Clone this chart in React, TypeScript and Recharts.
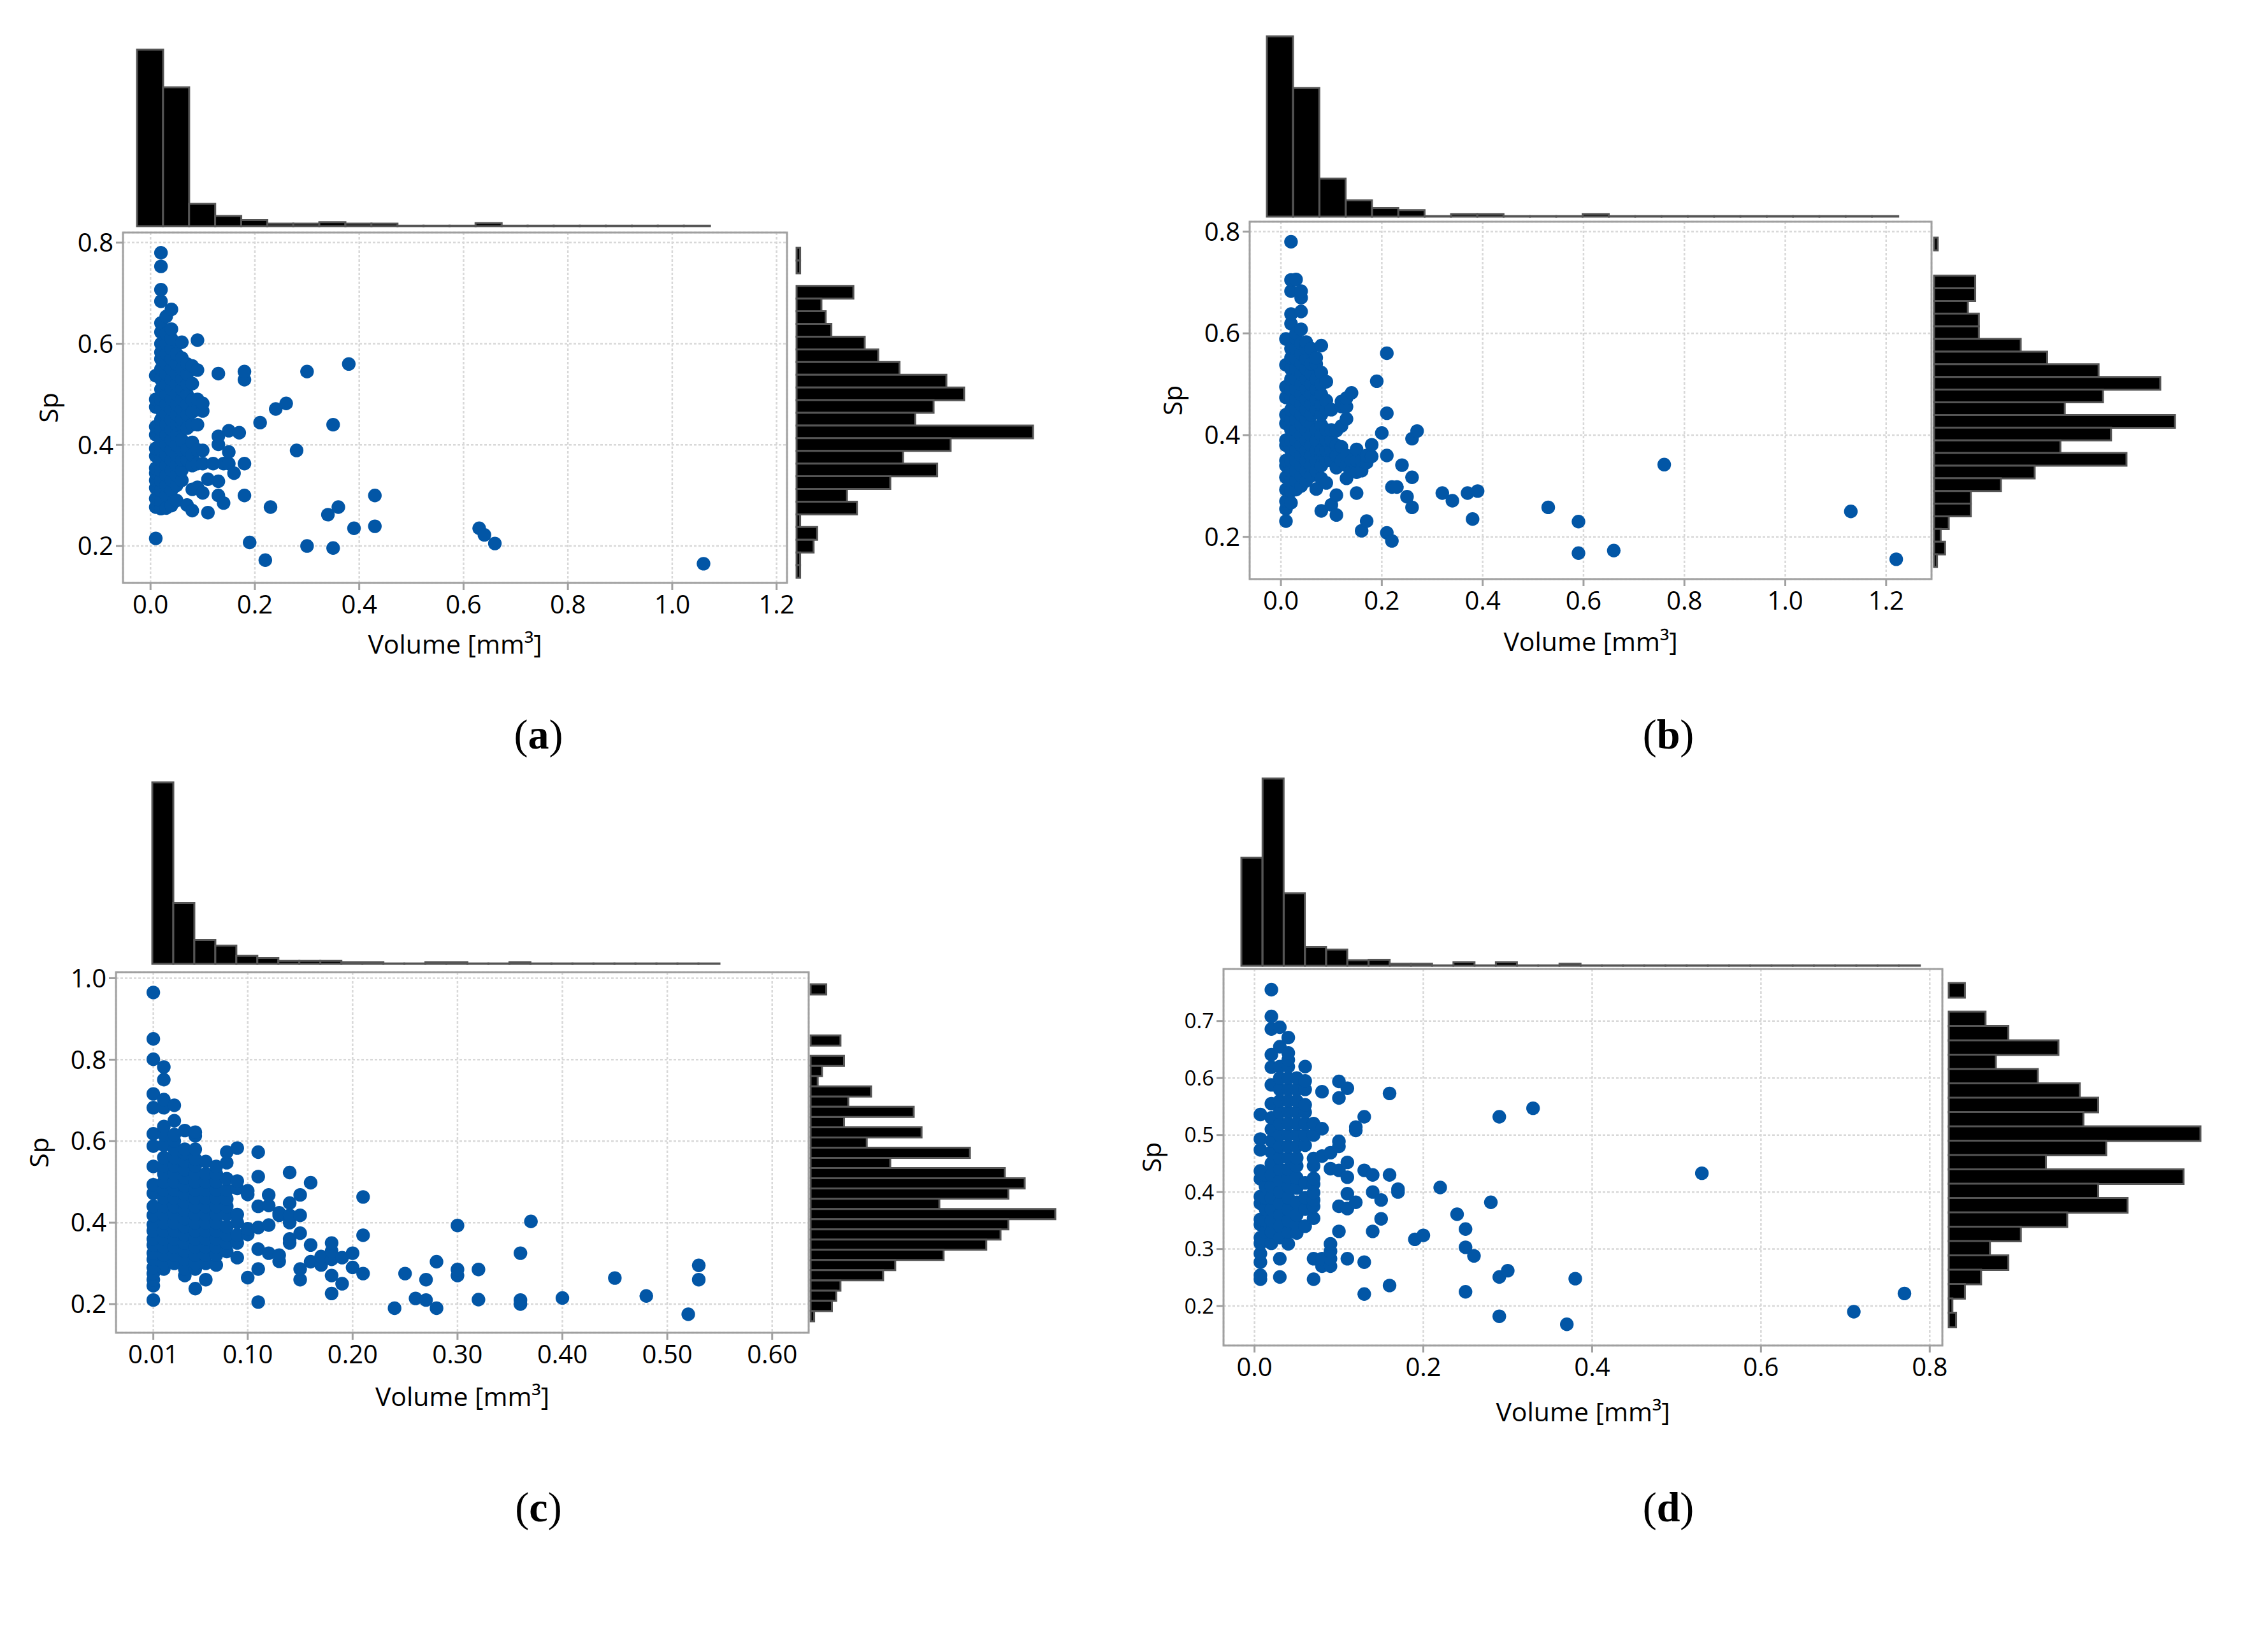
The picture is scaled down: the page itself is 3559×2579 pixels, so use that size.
import React from 'react';
import { BarChart, Bar, ScatterChart, Scatter, XAxis, YAxis, CartesianGrid, ReferenceArea } from 'recharts';

// Scatter data: the volumes are discretised, so each row is [volume, list of Sp values]
type Column = [number, number[]];

const columnsA: Column[] = [
    [0.01, [0.215, 0.277, 0.294, 0.315, 0.33, 0.344, 0.354, 0.378, 0.393, 0.42, 0.436, 0.475, 0.49, 0.537]],
    [0.02, [0.274, 0.29, 0.31, 0.33, 0.35, 0.37, 0.39, 0.41, 0.43, 0.45, 0.47, 0.49, 0.51, 0.53, 0.55, 0.57, 0.583, 0.6, 0.623, 0.641, 0.684, 0.707, 0.753, 0.78]],
    [0.03, [0.275, 0.3, 0.32, 0.34, 0.36, 0.38, 0.4, 0.42, 0.44, 0.46, 0.48, 0.5, 0.52, 0.54, 0.56, 0.58, 0.6, 0.62, 0.654]],
    [0.04, [0.28, 0.31, 0.33, 0.35, 0.37, 0.39, 0.41, 0.43, 0.45, 0.47, 0.49, 0.51, 0.53, 0.55, 0.57, 0.59, 0.61, 0.629, 0.668]],
    [0.05, [0.29, 0.32, 0.34, 0.36, 0.38, 0.4, 0.42, 0.44, 0.46, 0.48, 0.5, 0.52, 0.54, 0.56, 0.58]],
    [0.06, [0.33, 0.35, 0.37, 0.39, 0.41, 0.44, 0.45, 0.47, 0.49, 0.51, 0.53, 0.55, 0.572, 0.603]],
    [0.07, [0.281, 0.37, 0.39, 0.433, 0.46, 0.48, 0.5, 0.52, 0.54, 0.56]],
    [0.08, [0.27, 0.312, 0.359, 0.38, 0.405, 0.44, 0.465, 0.489, 0.521, 0.556]],
    [0.09, [0.316, 0.363, 0.39, 0.44, 0.47, 0.49, 0.548, 0.607]],
    [0.1, [0.305, 0.363, 0.389, 0.467, 0.482]],
    [0.11, [0.266, 0.332]],
    [0.12, [0.363]],
    [0.13, [0.3, 0.328, 0.401, 0.417, 0.541]],
    [0.14, [0.285, 0.363]],
    [0.15, [0.363, 0.386, 0.428]],
    [0.16, [0.344]],
    [0.17, [0.424]],
    [0.18, [0.3, 0.363, 0.529, 0.545]],
    [0.19, [0.207]],
    [0.21, [0.444]],
    [0.22, [0.172]],
    [0.23, [0.277]],
    [0.24, [0.471]],
    [0.26, [0.482]],
    [0.28, [0.389]],
    [0.3, [0.2, 0.545]],
    [0.34, [0.262]],
    [0.35, [0.196, 0.44]],
    [0.36, [0.277]],
    [0.38, [0.56]],
    [0.39, [0.235]],
    [0.43, [0.239, 0.3]],
    [0.63, [0.235]],
    [0.64, [0.222]],
    [0.66, [0.205]],
    [1.06, [0.165]],
];

const columnsB: Column[] = [
    [0.01, [0.231, 0.255, 0.27, 0.293, 0.317, 0.34, 0.35, 0.38, 0.39, 0.423, 0.44, 0.474, 0.495, 0.538, 0.589]],
    [0.02, [0.267, 0.29, 0.31, 0.33, 0.35, 0.37, 0.39, 0.41, 0.43, 0.45, 0.47, 0.49, 0.51, 0.53, 0.552, 0.57, 0.619, 0.638, 0.683, 0.705, 0.78]],
    [0.03, [0.293, 0.31, 0.33, 0.35, 0.37, 0.39, 0.41, 0.43, 0.45, 0.47, 0.49, 0.51, 0.53, 0.55, 0.57, 0.59, 0.6, 0.706]],
    [0.04, [0.3, 0.32, 0.34, 0.36, 0.38, 0.4, 0.42, 0.44, 0.46, 0.48, 0.5, 0.52, 0.54, 0.56, 0.58, 0.608, 0.643, 0.67, 0.683]],
    [0.05, [0.31, 0.33, 0.35, 0.37, 0.39, 0.41, 0.43, 0.45, 0.47, 0.49, 0.51, 0.53, 0.55, 0.57, 0.583]],
    [0.06, [0.32, 0.34, 0.36, 0.38, 0.4, 0.42, 0.44, 0.46, 0.48, 0.5, 0.52, 0.54, 0.57]],
    [0.07, [0.294, 0.33, 0.35, 0.37, 0.39, 0.41, 0.45, 0.47, 0.49, 0.51, 0.54, 0.552]],
    [0.08, [0.251, 0.315, 0.34, 0.36, 0.37, 0.4, 0.42, 0.44, 0.46, 0.48, 0.5, 0.523, 0.576]],
    [0.09, [0.306, 0.35, 0.37, 0.39, 0.41, 0.45, 0.468, 0.505]],
    [0.1, [0.263, 0.35, 0.37, 0.39, 0.41, 0.45]],
    [0.11, [0.243, 0.282, 0.336, 0.36, 0.38, 0.409]],
    [0.12, [0.35, 0.377, 0.418, 0.456, 0.466]],
    [0.13, [0.315, 0.34, 0.36, 0.432, 0.456, 0.473]],
    [0.14, [0.33, 0.35, 0.483]],
    [0.15, [0.286, 0.327, 0.35, 0.372]],
    [0.16, [0.212, 0.33, 0.35]],
    [0.17, [0.231, 0.346, 0.36]],
    [0.18, [0.358, 0.381]],
    [0.19, [0.506]],
    [0.2, [0.404]],
    [0.21, [0.208, 0.36, 0.443, 0.561]],
    [0.22, [0.192, 0.298]],
    [0.23, [0.298]],
    [0.24, [0.341]],
    [0.25, [0.279]],
    [0.26, [0.258, 0.317, 0.393]],
    [0.27, [0.408]],
    [0.32, [0.286]],
    [0.34, [0.271]],
    [0.37, [0.286]],
    [0.38, [0.235]],
    [0.39, [0.29]],
    [0.53, [0.258]],
    [0.59, [0.168, 0.23]],
    [0.66, [0.173]],
    [0.76, [0.342]],
    [1.13, [0.25]],
    [1.22, [0.156]],
];

const columnsC: Column[] = [
    [0.01, [0.21, 0.245, 0.26, 0.275, 0.29, 0.31, 0.325, 0.345, 0.36, 0.38, 0.395, 0.418, 0.44, 0.472, 0.493, 0.538, 0.588, 0.618, 0.682, 0.716, 0.801, 0.851, 0.965]],
    [0.02, [0.286, 0.3, 0.32, 0.34, 0.36, 0.38, 0.4, 0.42, 0.44, 0.46, 0.48, 0.5, 0.52, 0.54, 0.56, 0.59, 0.616, 0.636, 0.682, 0.702, 0.751, 0.782]],
    [0.03, [0.3, 0.32, 0.34, 0.36, 0.38, 0.4, 0.42, 0.44, 0.46, 0.48, 0.5, 0.52, 0.54, 0.56, 0.58, 0.6, 0.616, 0.65, 0.688]],
    [0.04, [0.27, 0.286, 0.31, 0.33, 0.35, 0.37, 0.39, 0.41, 0.43, 0.45, 0.47, 0.49, 0.51, 0.53, 0.55, 0.57, 0.58, 0.626]],
    [0.05, [0.238, 0.286, 0.3, 0.32, 0.34, 0.36, 0.38, 0.4, 0.42, 0.44, 0.46, 0.48, 0.5, 0.52, 0.54, 0.556, 0.58, 0.613, 0.622]],
    [0.06, [0.26, 0.3, 0.32, 0.34, 0.36, 0.38, 0.4, 0.42, 0.44, 0.46, 0.48, 0.5, 0.52, 0.55]],
    [0.07, [0.296, 0.32, 0.34, 0.36, 0.38, 0.4, 0.42, 0.44, 0.46, 0.48, 0.5, 0.52, 0.538]],
    [0.08, [0.329, 0.35, 0.37, 0.39, 0.42, 0.44, 0.458, 0.48, 0.508, 0.547, 0.573]],
    [0.09, [0.314, 0.35, 0.37, 0.4, 0.42, 0.484, 0.502, 0.583]],
    [0.1, [0.265, 0.371, 0.385, 0.469, 0.478]],
    [0.11, [0.205, 0.286, 0.335, 0.388, 0.44, 0.513, 0.573]],
    [0.12, [0.325, 0.394, 0.442, 0.468]],
    [0.13, [0.305, 0.32, 0.418, 0.424]],
    [0.14, [0.35, 0.36, 0.4, 0.418, 0.448, 0.523]],
    [0.15, [0.26, 0.286, 0.374, 0.418, 0.468]],
    [0.16, [0.304, 0.345, 0.498]],
    [0.17, [0.296, 0.317]],
    [0.18, [0.226, 0.27, 0.31, 0.33, 0.35]],
    [0.19, [0.25, 0.314]],
    [0.2, [0.29, 0.325]],
    [0.21, [0.275, 0.369, 0.463]],
    [0.24, [0.19]],
    [0.25, [0.275]],
    [0.26, [0.214]],
    [0.27, [0.21, 0.26]],
    [0.28, [0.19, 0.304]],
    [0.3, [0.27, 0.285, 0.393]],
    [0.32, [0.211, 0.285]],
    [0.36, [0.2, 0.21, 0.325]],
    [0.37, [0.403]],
    [0.4, [0.215]],
    [0.45, [0.264]],
    [0.48, [0.22]],
    [0.52, [0.175]],
    [0.53, [0.26, 0.295]],
];

const columnsD: Column[] = [
    [0.007, [0.247, 0.254, 0.277, 0.292, 0.31, 0.32, 0.343, 0.352, 0.38, 0.392, 0.423, 0.437, 0.474, 0.493, 0.536]],
    [0.013, [0.33, 0.35, 0.37, 0.39, 0.41, 0.43]],
    [0.02, [0.31, 0.33, 0.35, 0.37, 0.39, 0.41, 0.43, 0.45, 0.47, 0.49, 0.51, 0.53, 0.555, 0.588, 0.619, 0.641, 0.686, 0.708, 0.755]],
    [0.03, [0.251, 0.283, 0.32, 0.34, 0.36, 0.38, 0.4, 0.42, 0.44, 0.46, 0.48, 0.5, 0.52, 0.54, 0.56, 0.58, 0.6, 0.62, 0.655, 0.689]],
    [0.04, [0.309, 0.33, 0.35, 0.37, 0.39, 0.41, 0.426, 0.44, 0.46, 0.48, 0.5, 0.52, 0.54, 0.56, 0.58, 0.6, 0.62, 0.632, 0.644, 0.671]],
    [0.05, [0.328, 0.343, 0.36, 0.382, 0.407, 0.425, 0.446, 0.46, 0.48, 0.5, 0.52, 0.54, 0.56, 0.58, 0.6]],
    [0.06, [0.34, 0.37, 0.39, 0.416, 0.482, 0.5, 0.52, 0.54, 0.553, 0.58, 0.595, 0.62]],
    [0.07, [0.247, 0.283, 0.354, 0.375, 0.386, 0.399, 0.414, 0.424, 0.446, 0.459, 0.5, 0.52]],
    [0.08, [0.27, 0.283, 0.463, 0.511, 0.576]],
    [0.09, [0.27, 0.283, 0.296, 0.309, 0.441, 0.469]],
    [0.1, [0.331, 0.375, 0.438, 0.48, 0.489, 0.565, 0.594]],
    [0.11, [0.283, 0.371, 0.397, 0.426, 0.452, 0.582]],
    [0.12, [0.382, 0.508, 0.514]],
    [0.13, [0.221, 0.277, 0.438, 0.532]],
    [0.14, [0.331, 0.4, 0.43]],
    [0.15, [0.353, 0.386]],
    [0.16, [0.236, 0.43, 0.573]],
    [0.17, [0.4, 0.405]],
    [0.19, [0.317]],
    [0.2, [0.324]],
    [0.22, [0.408]],
    [0.24, [0.361]],
    [0.25, [0.225, 0.303, 0.335]],
    [0.26, [0.288]],
    [0.28, [0.382]],
    [0.29, [0.182, 0.251, 0.532]],
    [0.3, [0.262]],
    [0.33, [0.547]],
    [0.37, [0.168]],
    [0.38, [0.248]],
    [0.53, [0.433]],
    [0.71, [0.19]],
    [0.77, [0.222]],
];

// Marginal histograms, relative bar lengths
const topA = [348, 274, 44, 20, 12, 5, 5, 8, 5, 5, 1, 1, 1, 6, 1, 1, 1, 1, 1, 1, 1, 1];
const rightA = [5, 5, 0, 80, 35, 41, 49, 96, 115, 145, 211, 236, 193, 167, 333, 217, 150, 198, 132, 71, 85, 5, 29, 24, 5, 5];
const topB = [355, 253, 75, 32, 17, 13, 1, 5, 5, 1, 1, 1, 5, 1, 1, 1, 1, 1, 1, 1, 1, 1, 1, 1];
const rightB = [5, 0, 0, 56, 56, 46, 61, 61, 118, 154, 224, 308, 230, 178, 328, 241, 172, 262, 137, 91, 50, 50, 20, 9, 15, 4];
const topC = [358, 120, 47, 36, 16, 12, 6, 6, 6, 3, 3, 1, 1, 3, 3, 1, 1, 3, 1, 1, 1, 1, 1, 1, 1, 1, 1];
const rightC = [22, 0, 0, 0, 0, 42, 0, 47, 16, 10, 85, 53, 145, 47, 156, 79, 224, 112, 273, 301, 278, 181, 344, 278, 267, 247, 187, 119, 102, 42, 36, 30, 5];
const topD = [213, 369, 143, 37, 32, 11, 12, 4, 4, 1, 7, 1, 7, 1, 1, 4, 1, 1, 1, 1, 1, 1, 1, 1, 1, 1, 1, 1, 1, 1, 1, 1];
const rightD = [22, 0, 50, 81, 149, 64, 121, 178, 203, 183, 342, 214, 132, 319, 203, 243, 161, 98, 56, 81, 44, 22, 5, 10];

// Axis ticks
const volumeTicksAB = [0, 0.2, 0.4, 0.6, 0.8, 1.0, 1.2];
const volumeTicksC = [0.01, 0.1, 0.2, 0.3, 0.4, 0.5, 0.6];
const volumeTicksD = [0, 0.2, 0.4, 0.6, 0.8];
const spTicksAB = [0.2, 0.4, 0.6, 0.8];
const spTicksC = [0.2, 0.4, 0.6, 0.8, 1.0];
const spTicksD = [0.2, 0.3, 0.4, 0.5, 0.6, 0.7];

const FONT = '"Open Sans", sans-serif';
const DOT_COLOR = '#0256a6';
const DOT_RADIUS = 10.7;
const BORDER_COLOR = '#a0a0a0';
const GRID_COLOR = '#d8d8d8';
const BAR_EDGE = '#555555';

const panels = [
    {
        key: 'a', columns: columnsA, xTicks: volumeTicksAB, yTicks: spTicksAB, xDigits: 1,
        xDomain: [-0.0528, 1.22], yDomain: [0.127, 0.82], spSize: 40, spOffset: 48,
        box: { left: 193, top: 365, width: 1042, height: 550 },
        top: { values: topA, left: 215, top: 78, width: 899, height: 277 },
        right: { values: rightA, left: 1250, top: 389, width: 371, height: 518 },
        caption: { x: 845, y: 1153 }, labelGap: 116,
    },
    {
        key: 'b', columns: columnsB, xTicks: volumeTicksAB, yTicks: spTicksAB, xDigits: 1,
        xDomain: [-0.062, 1.29], yDomain: [0.117, 0.8195], spSize: 40, spOffset: 44,
        box: { left: 1961, top: 348, width: 1070, height: 561 },
        top: { values: topB, left: 1988, top: 57, width: 991, height: 283 },
        right: { values: rightB, left: 3035, top: 373, width: 378, height: 517 },
        caption: { x: 2618, y: 1153 }, labelGap: 118,
    },
    {
        key: 'c', columns: columnsC, xTicks: volumeTicksC, yTicks: spTicksC, xDigits: 2,
        xDomain: [-0.0256, 0.6348], yDomain: [0.1297, 1.0148], spSize: 40, spOffset: 44,
        box: { left: 182, top: 1526, width: 1087, height: 566 },
        top: { values: topC, left: 239, top: 1228, width: 890, height: 285 },
        right: { values: rightC, left: 1272, top: 1545, width: 384, height: 529 },
        caption: { x: 845, y: 2366 }, labelGap: 120,
    },
    {
        key: 'd', columns: columnsD, xTicks: volumeTicksD, yTicks: spTicksD, xDigits: 1,
        xDomain: [-0.0367, 0.8149], yDomain: [0.1308, 0.7913], spSize: 33, spOffset: 52,
        box: { left: 1920, top: 1521, width: 1128, height: 591 },
        top: { values: topD, left: 1948, top: 1222, width: 1065, height: 294 },
        right: { values: rightD, left: 3058, top: 1543, width: 395, height: 540 },
        caption: { x: 2618, y: 2366 }, labelGap: 124,
    },
];

interface HistProps {
    values: number[];
    left: number;
    top: number;
    width: number;
    height: number;
}

const PAD = 3; // keeps the bar outlines inside the svg

const TopHist: React.FC<HistProps> = ({ values, left, top, width, height }) => {
    const data = values.map((count, bin) => ({ bin, count }));
    return (
        <div style={{ position: 'absolute', left: left - PAD, top: top - PAD }}>
            <BarChart width={width + 2 * PAD} height={height + 2 * PAD} data={data} barCategoryGap={0}
                margin={{ top: PAD, right: PAD, bottom: PAD, left: PAD }}>
                <XAxis dataKey="bin" hide />
                <YAxis type="number" domain={[0, Math.max(...values)]} hide />
                <Bar dataKey="count" fill="#000000" stroke={BAR_EDGE} strokeWidth={3} isAnimationActive={false} />
            </BarChart>
        </div>
    );
};

const RightHist: React.FC<HistProps> = ({ values, left, top, width, height }) => {
    const data = values.map((count, bin) => ({ bin, count }));
    return (
        <div style={{ position: 'absolute', left: left - PAD, top: top - PAD }}>
            <BarChart layout="vertical" width={width + 2 * PAD} height={height + 2 * PAD} data={data} barCategoryGap={0}
                margin={{ top: PAD, right: PAD, bottom: PAD, left: PAD }}>
                <XAxis type="number" domain={[0, Math.max(...values)]} hide />
                <YAxis type="category" dataKey="bin" hide />
                <Bar dataKey="count" fill="#000000" stroke={BAR_EDGE} strokeWidth={3} isAnimationActive={false} />
            </BarChart>
        </div>
    );
};

const Y_AXIS_WIDTH = 165;
const EXTRA_TOP = 20;
const EXTRA_RIGHT = 50;
const EXTRA_BOTTOM = 20;

const Dot = (props: any) => <circle cx={props.cx} cy={props.cy} r={DOT_RADIUS} fill={DOT_COLOR} />;

const Panel: React.FC<{ panel: (typeof panels)[number] }> = ({ panel }) => {
    const { box, columns, xDomain, yDomain, xTicks, yTicks, xDigits, spSize, spOffset, labelGap, caption } = panel;
    const points = columns.flatMap(([x, ys]) => ys.map((y) => ({ x, y })));
    return (
        <>
            <TopHist {...panel.top} />
            <RightHist {...panel.right} />
            <div style={{ position: 'absolute', left: box.left - Y_AXIS_WIDTH, top: box.top - EXTRA_TOP }}>
                <ScatterChart
                    width={Y_AXIS_WIDTH + box.width + EXTRA_RIGHT}
                    height={EXTRA_TOP + box.height + labelGap + EXTRA_BOTTOM}
                    margin={{ top: EXTRA_TOP, right: EXTRA_RIGHT, bottom: EXTRA_BOTTOM, left: 0 }}
                >
                    <CartesianGrid stroke={GRID_COLOR} strokeWidth={2.5} strokeDasharray="4 3" />
                    <ReferenceArea x1={xDomain[0]} x2={xDomain[1]} y1={yDomain[0]} y2={yDomain[1]}
                        fill="none" fillOpacity={0} stroke={BORDER_COLOR} strokeWidth={3} />
                    <XAxis
                        type="number" dataKey="x" domain={xDomain} ticks={xTicks} interval={0} height={labelGap}
                        axisLine={false} tickSize={11} tickMargin={9} tickLine={{ stroke: BORDER_COLOR, strokeWidth: 3 }}
                        tick={{ fontSize: 40, fill: '#000000', fontFamily: FONT }}
                        tickFormatter={(v: number) => v.toFixed(xDigits)}
                        label={{ value: 'Volume [mm³]', position: 'insideBottom', fontSize: 41, fill: '#000000', fontFamily: FONT }}
                    />
                    <YAxis
                        type="number" dataKey="y" domain={yDomain} ticks={yTicks} interval={0} width={Y_AXIS_WIDTH}
                        axisLine={false} tickSize={11} tickMargin={4} tickLine={{ stroke: BORDER_COLOR, strokeWidth: 3 }}
                        tick={{ fontSize: spSize, fill: '#000000', fontFamily: FONT }}
                        tickFormatter={(v: number) => v.toFixed(1)}
                        label={{
                            value: 'Sp', angle: -90, position: 'insideLeft', offset: spOffset, fontSize: 41, fill: '#000000',
                            fontFamily: FONT, style: { textAnchor: 'middle' },
                        }}
                    />
                    <Scatter data={points} shape={Dot} isAnimationActive={false} />
                </ScatterChart>
            </div>
            <div style={{
                position: 'absolute', left: caption.x - 100, top: caption.y - 50, width: 200, height: 100,
                lineHeight: '100px', textAlign: 'center', fontSize: 66, color: '#000000', fontFamily: '"Liberation Serif", serif',
            }}>
                (<b>{panel.key}</b>)
            </div>
        </>
    );
};

const App: React.FC = () => (
    <div style={{ position: 'absolute', left: 0, top: 0, width: 3559, height: 2579, background: '#ffffff', overflow: 'hidden' }}>
        {panels.map((panel) => (
            <Panel key={panel.key} panel={panel} />
        ))}
    </div>
);

export default App;
